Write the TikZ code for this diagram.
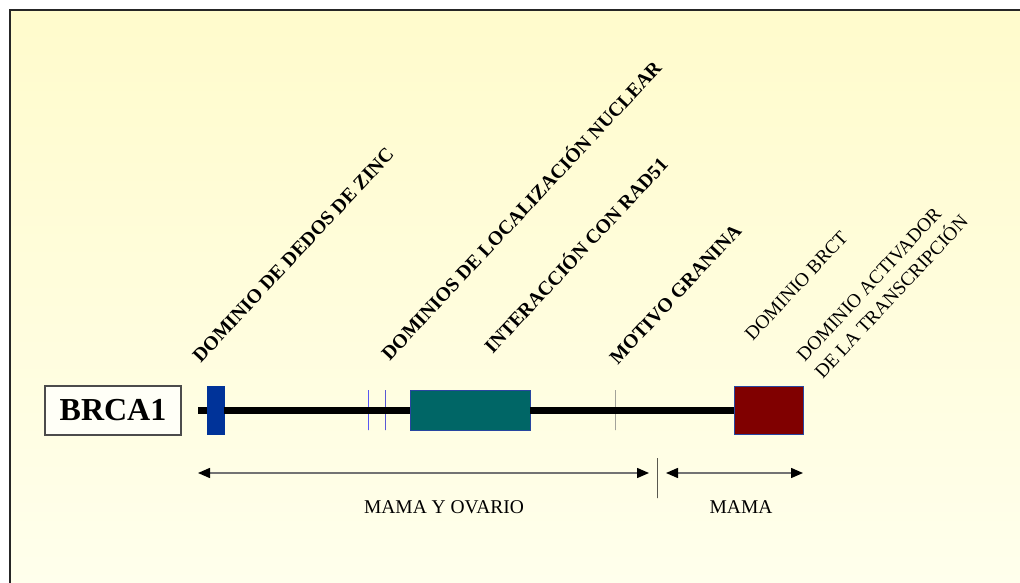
\documentclass[tikz,border=0pt]{standalone}
\usepackage{fontspec}
\setmainfont{Liberation Serif}
\usetikzlibrary{arrows.meta}

\definecolor{zincblue}{RGB}{0,51,153}
\definecolor{radteal}{RGB}{0,102,102}
\definecolor{brctred}{RGB}{128,0,0}
\definecolor{edgeblue}{RGB}{40,70,160}
\definecolor{bgtop}{RGB}{255,251,204}
\definecolor{bgbottom}{RGB}{255,255,236}

\tikzset{
  genebox/.style={draw=edgeblue, line width=0.8pt, inner sep=0pt},
  marker/.style={draw=#1, line width=1pt, inner sep=0pt,
                 minimum width=0pt, minimum height=40pt},
  backbone/.style={line width=7pt, black},
  rangearrow/.style={line width=1.5pt, black!55,
                     {Triangle[length=12pt,width=10pt,black]}-{Triangle[length=12pt,width=10pt,black]}},
  featlabel/.style={rotate=47, anchor=south west, inner sep=0pt,
                    font=\bfseries\fontsize{19.7}{24}\selectfont},
  plainlabel/.style={rotate=47, anchor=south west, inner sep=0pt,
                     font=\fontsize{19.3}{24.7}\selectfont},
  rangelabel/.style={font=\fontsize{19.5}{22}\selectfont, inner sep=0pt}
}

\begin{document}
\begin{tikzpicture}[x=1pt,y=-1pt]
\useasboundingbox (0,0) rectangle (1020,583);

% slide background and frame
\shade[top color=bgtop, bottom color=bgbottom] (10,10) rectangle (1020,583);
\draw[line width=2pt, black!85] (10,583) -- (10,10) -- (1020,10);

% gene name
\node[draw=black!70, line width=1.2pt, fill=white!60!bgbottom,
      minimum width=136pt, minimum height=49pt, inner sep=0pt,
      font=\bfseries\fontsize{32}{36}\selectfont] (brca) at (113,410.5) {BRCA1};

% protein domains
\coordinate (gstart) at (198,410);
\node[genebox, fill=zincblue, draw=zincblue, minimum width=17pt, minimum height=48pt] (zinc) at (215.5,410) {};
\node[marker=blue] (nls1) at (368,410) {};
\node[marker=blue!80!black] (nls2) at (385,410) {};
\node[genebox, fill=radteal, minimum width=120pt, minimum height=40pt] (rad) at (470,410) {};
\node[marker=black!55] (gran) at (615,410) {};
\node[genebox, fill=brctred, minimum width=69pt, minimum height=48pt] (brct) at (768.5,410) {};

% backbone between the domains
\draw[backbone] (gstart) -- (zinc.west);
\draw[backbone] (zinc.east) -- (rad.west);
\draw[backbone] (rad.east) -- (brct.west);

% domain labels
\node[featlabel] (lzinc) at (201,364) {DOMINIO DE DEDOS DE ZINC};
\node[featlabel] (lnls) at (390,362) {DOMINIOS DE LOCALIZACIÓN NUCLEAR};
\node[featlabel] (lrad) at (493,355) {INTERACCIÓN CON RAD51};
\node[featlabel] (lgran) at (618,366) {MOTIVO GRANINA};
\node[plainlabel] (lbrct) at (753,342) {DOMINIO BRCT};
\node[plainlabel, align=left] (lact) at (823,380) {DOMINIO ACTIVADOR\\DE LA TRANSCRIPCIÓN};

% cancer ranges
\coordinate (r1a) at (198,473);
\coordinate (r1b) at (649,473);
\coordinate (r2a) at (666,473);
\coordinate (r2b) at (803,473);
\node[draw=black, line width=1pt, inner sep=0pt, minimum width=0pt, minimum height=40pt] (sep) at (657,478) {};
\draw[rangearrow] (r1a) -- (r1b);
\draw[rangearrow] (r2a) -- (r2b);
\node[rangelabel] (lboth) at (444,507) {MAMA Y OVARIO};
\node[rangelabel] (lmama) at (741,507) {MAMA};
\end{tikzpicture}
\end{document}
